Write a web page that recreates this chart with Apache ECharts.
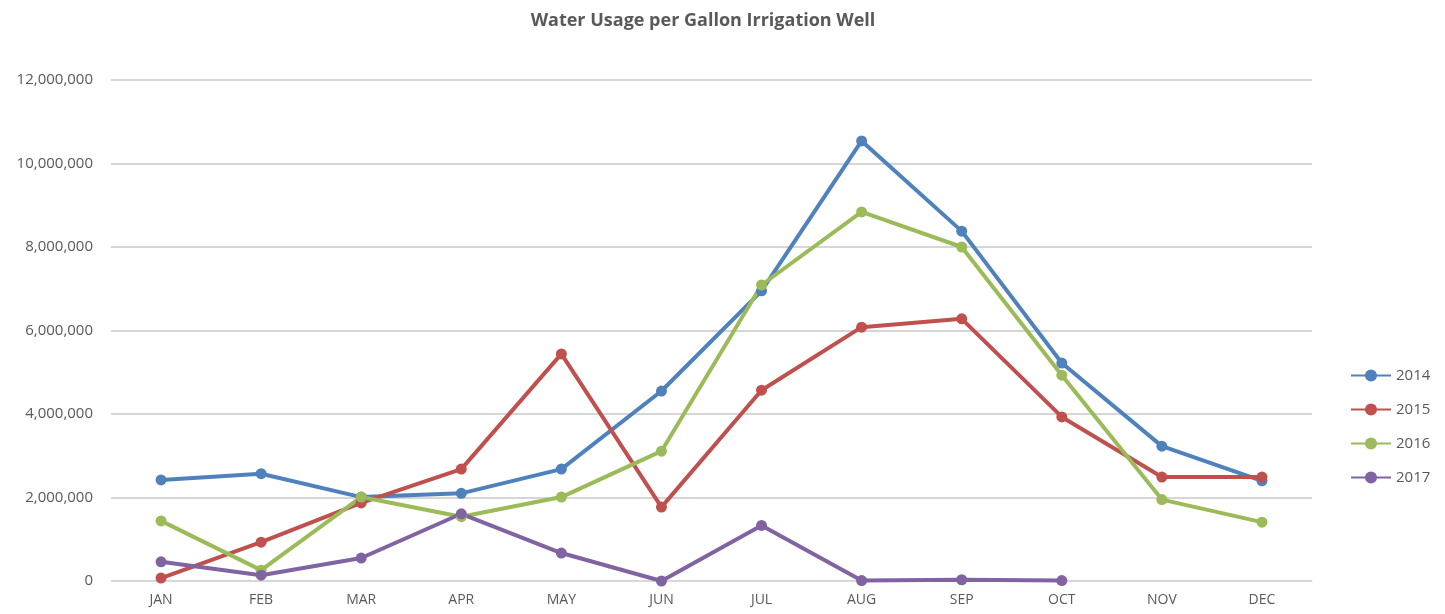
<!DOCTYPE html>
<html>
<head>
<meta charset="utf-8">
<script src="https://cdn.jsdelivr.net/npm/echarts@6/dist/echarts.min.js"></script>
<style>
  html, body { margin: 0; padding: 0; background: #fff; }
  #chart { width: 1445px; height: 614px; }
</style>
</head>
<body>
<div id="chart"></div>
<script>
const months = ['JAN', 'FEB', 'MAR', 'APR', 'MAY', 'JUN', 'JUL', 'AUG', 'SEP', 'OCT', 'NOV', 'DEC'];
const usage2014 = [2420000, 2570000, 2010000, 2100000, 2680000, 4550000, 6950000, 10540000, 8380000, 5220000, 3230000, 2400000];
const usage2015 = [70000, 930000, 1870000, 2680000, 5440000, 1770000, 4570000, 6080000, 6280000, 3930000, 2490000, 2490000];
const usage2016 = [1440000, 260000, 2010000, 1540000, 2010000, 3110000, 7090000, 8840000, 8000000, 4930000, 1950000, 1410000];
const usage2017 = [460000, 140000, 550000, 1610000, 670000, 0, 1330000, 10000, 30000, 10000, null, null];

const chart = echarts.init(document.getElementById('chart'), null, { renderer: 'canvas' });

const makeLine = (name, data, color) => ({
  name,
  type: 'line',
  data,
  symbol: 'circle',
  symbolSize: 11,
  lineStyle: { width: 4, color },
  itemStyle: { color },
  emphasis: { disabled: true }
});

chart.setOption({
  animation: false,
  textStyle: { fontFamily: 'Open Sans, Liberation Sans, sans-serif' },
  title: {
    text: 'Water Usage per Gallon Irrigation Well',
    left: 698,
    textAlign: 'center',
    top: 7,
    textStyle: { fontSize: 18, fontWeight: 'bold', color: '#595959', fontFamily: 'Open Sans, sans-serif' }
  },
  legend: {
    orient: 'vertical',
    left: 1345,
    top: 363,
    itemGap: 19,
    itemWidth: 40,
    itemHeight: 15,
    textStyle: { fontSize: 15, color: '#595959' },
    data: ['2014', '2015', '2016', '2017']
  },
  grid: { left: 111, right: 133, top: 80, bottom: 33 },
  xAxis: {
    type: 'category',
    data: months,
    boundaryGap: true,
    axisLine: { show: true, lineStyle: { color: '#d9d9d9', width: 1 } },
    axisTick: { show: false },
    axisLabel: { color: '#595959', fontSize: 14, margin: 12 }
  },
  yAxis: {
    type: 'value',
    min: 0,
    max: 12000000,
    interval: 2000000,
    axisLine: { show: false },
    axisTick: { show: false },
    splitLine: { lineStyle: { color: '#c8c8c8', width: 1.5 } },
    axisLabel: {
      color: '#595959',
      fontSize: 15,
      margin: 18,
      formatter: v => v.toLocaleString('en-US')
    }
  },
  series: [
    makeLine('2014', usage2014, '#4F81BD'),
    makeLine('2015', usage2015, '#C0504D'),
    makeLine('2016', usage2016, '#9BBB59'),
    makeLine('2017', usage2017, '#8064A2')
  ]
});
</script>
</body>
</html>
